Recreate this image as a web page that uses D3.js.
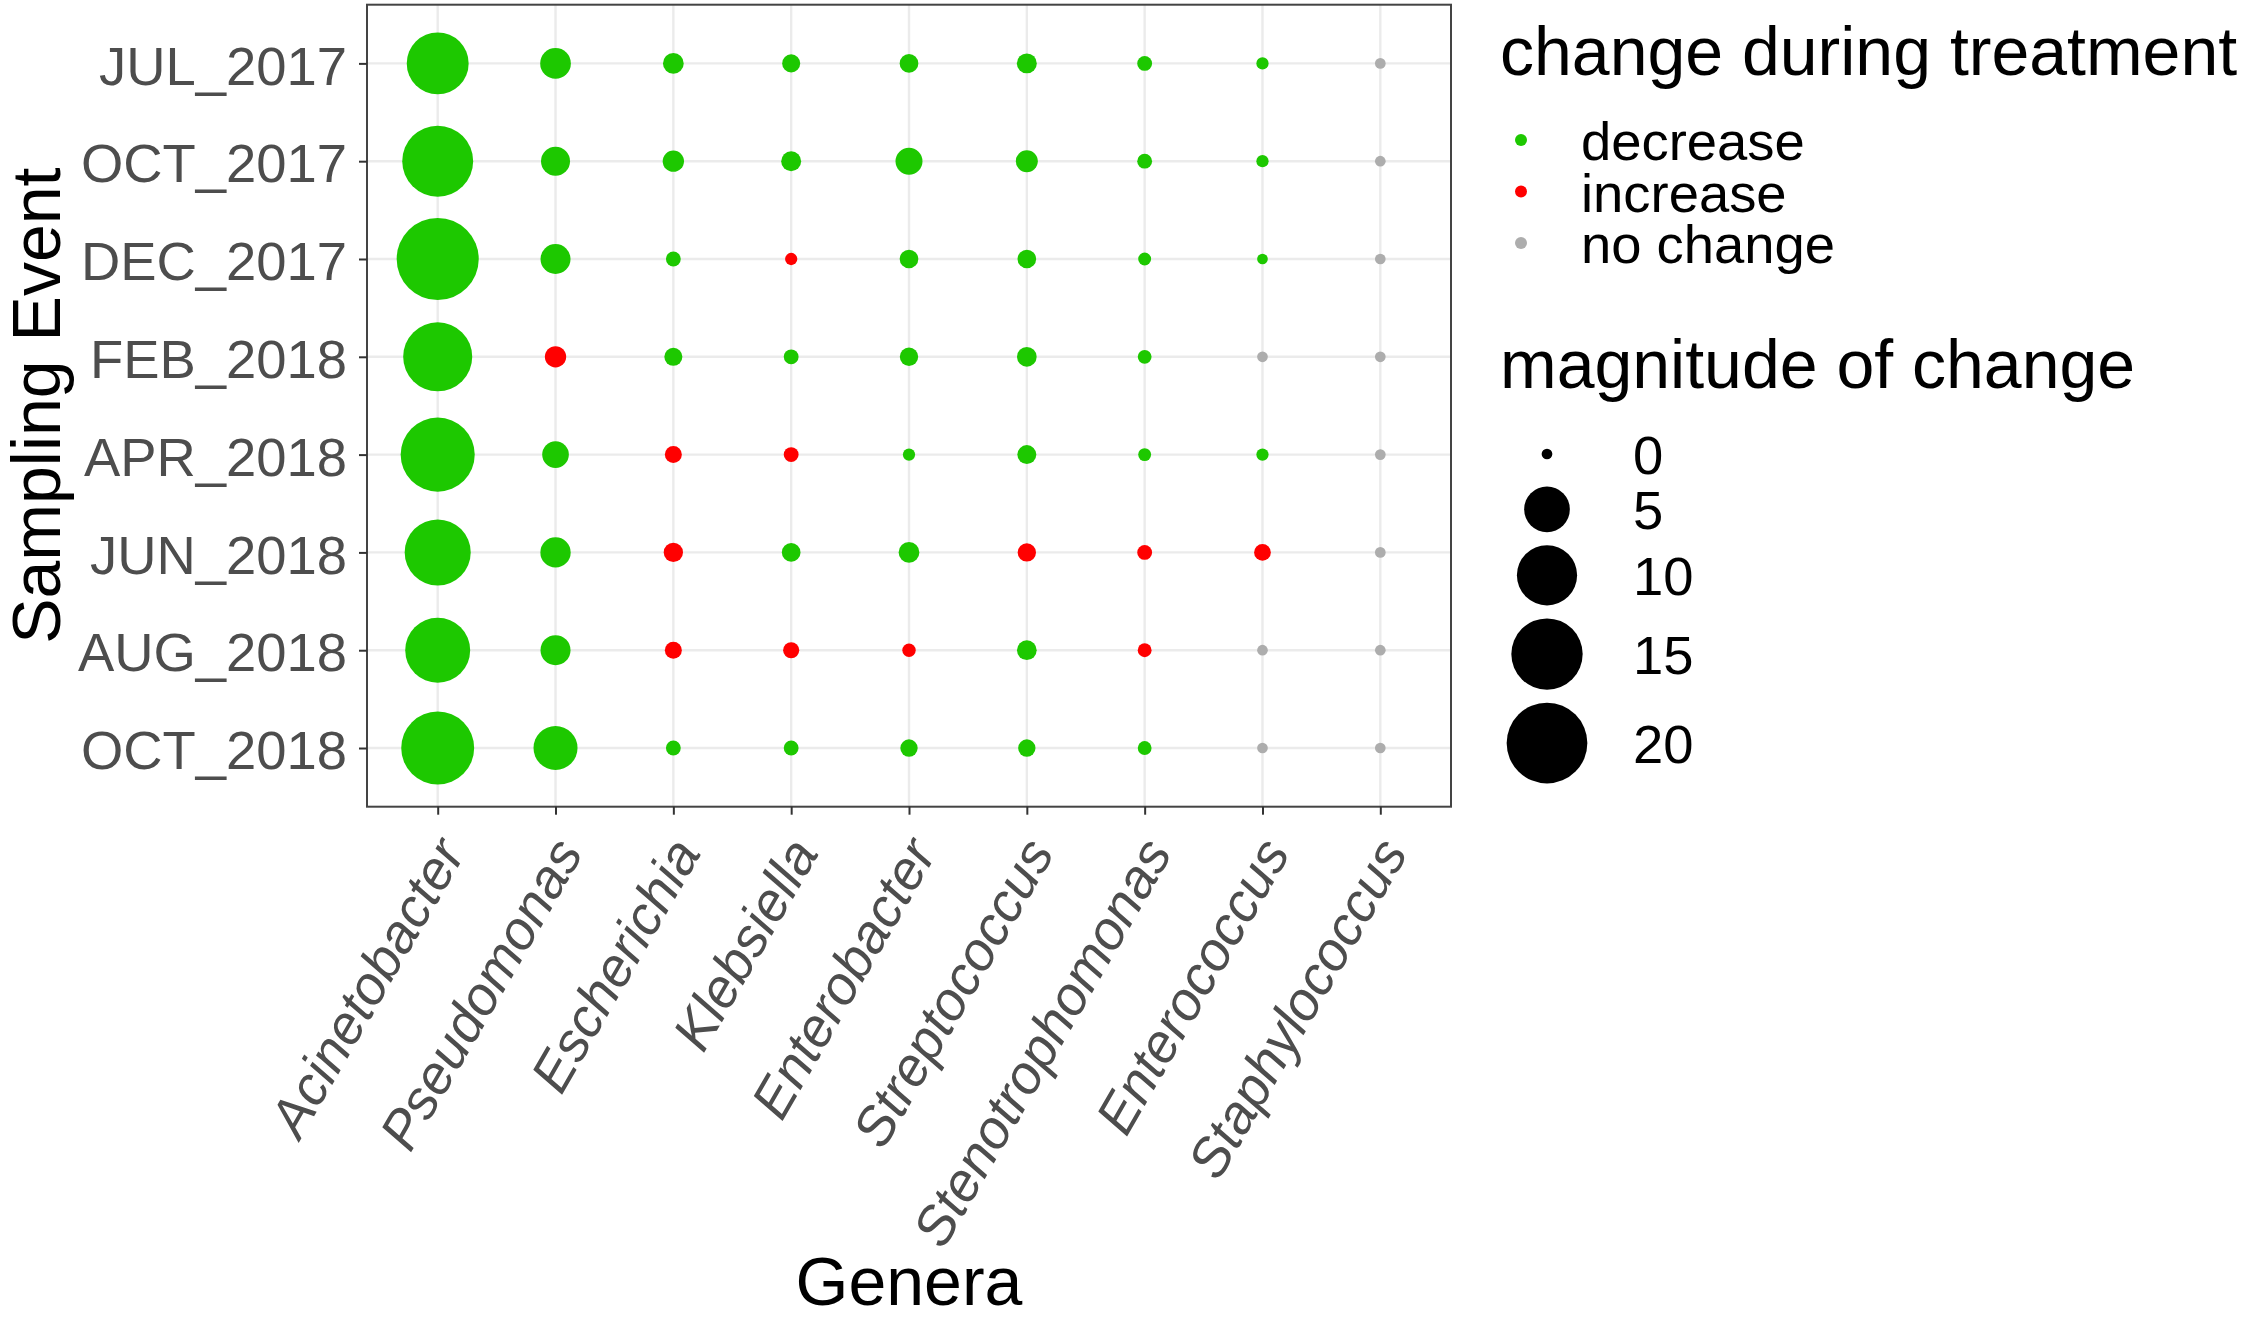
<!DOCTYPE html>
<html>
<head>
<meta charset="utf-8">
<script src="https://cdn.jsdelivr.net/npm/d3@7"></script>
<style>
  body { margin: 0; background: #fff; }
  text { font-family: "Liberation Sans", Arial, Helvetica, sans-serif; }
</style>
</head>
<body>
<div id="visualization"></div>
<script>
/*************************************/
/* Data                              */
/*************************************/

const events = ['JUL_2017', 'OCT_2017', 'DEC_2017', 'FEB_2018',
  'APR_2018', 'JUN_2018', 'AUG_2018', 'OCT_2018'];

const genera = ['Acinetobacter', 'Pseudomonas', 'Escherichia', 'Klebsiella',
  'Enterobacter', 'Streptococcus', 'Stenotrophomonas', 'Enterococcus', 'Staphylococcus'];

// Change direction labels
const D = 'decrease', I = 'increase', N = 'no change';
const changeLevels = [D, I, N];
const changeColors = ['#1dc800', '#ff0000', '#adadad'];

// Magnitude of change per genus, one value per sampling event (same order as events)
const acinetobacter    = [10.7, 14.8, 20.8, 13.9, 16.4, 12.5, 12.0, 15.8];
const pseudomonas      = [1.63, 1.37, 1.52, 0.46, 1.04, 1.57, 1.52, 4.53];
const escherichia      = [0.41, 0.46, 0.07, 0.22, 0.16, 0.30, 0.16, 0.07];
const klebsiella       = [0.22, 0.35, 0.01, 0.07, 0.07, 0.26, 0.12, 0.07];
const enterobacter     = [0.26, 1.08, 0.26, 0.24, 0.01, 0.41, 0.03, 0.18];
const streptococcus    = [0.35, 0.52, 0.26, 0.33, 0.28, 0.24, 0.33, 0.18];
const stenotrophomonas = [0.07, 0.07, 0.02, 0.04, 0.02, 0.07, 0.04, 0.04];
const enterococcus     = [0.01, 0.01, 0.00, 0.00, 0.01, 0.15, 0.00, 0.00];
const staphylococcus   = [0, 0, 0, 0, 0, 0, 0, 0];

// Direction of change per genus
const acinetobacterChange    = [D, D, D, D, D, D, D, D];
const pseudomonasChange      = [D, D, D, I, D, D, D, D];
const escherichiaChange      = [D, D, D, D, I, I, I, D];
const klebsiellaChange       = [D, D, I, D, I, D, I, D];
const enterobacterChange     = [D, D, D, D, D, D, I, D];
const streptococcusChange    = [D, D, D, D, D, I, D, D];
const stenotrophomonasChange = [D, D, D, D, D, I, I, D];
const enterococcusChange     = [D, D, D, N, D, I, N, N];
const staphylococcusChange   = [N, N, N, N, N, N, N, N];

const sizeBreaks = [0, 5, 10, 15, 20];


/*************************************/
/* Layout                            */
/*************************************/

const width = 2251;
const height = 1318;
const panel = { left: 367, right: 1451, top: 4.7, bottom: 806.7 };
const tickFont = 54.4;
const titleFont = 68;


/*************************************/
/* Build table                       */
/*************************************/

const magnitudes = [acinetobacter, pseudomonas, escherichia, klebsiella, enterobacter,
  streptococcus, stenotrophomonas, enterococcus, staphylococcus];
const changes = [acinetobacterChange, pseudomonasChange, escherichiaChange, klebsiellaChange,
  enterobacterChange, streptococcusChange, stenotrophomonasChange, enterococcusChange,
  staphylococcusChange];

const points = [];
genera.forEach((g, gi) => {
  events.forEach((e, ei) => {
    points.push({ genus: g, event: e, value: magnitudes[gi][ei], change: changes[gi][ei] });
  });
});


/*************************************/
/* Scales                            */
/*************************************/

const x = d3.scalePoint().domain(genera).range([panel.left, panel.right]).padding(0.6);
const y = d3.scalePoint().domain(events).range([panel.top, panel.bottom]).padding(0.6);
const r = d3.scaleSqrt().domain([0, 20]).range([5.35, 40.35]);
const color = d3.scaleOrdinal().domain(changeLevels).range(changeColors);


/*************************************/
/* Draw                              */
/*************************************/

const svg = d3.select('#visualization')
  .append('svg')
  .attr('width', width)
  .attr('height', height)
  .attr('viewBox', [0, 0, width, height]);

svg.append('rect').attr('width', width).attr('height', height).attr('fill', '#fff');

// Grid
const grid = svg.append('g')
  .attr('stroke', '#ebebeb')
  .attr('stroke-width', 2.4);

grid.selectAll('.vgrid')
  .data(genera)
  .join('line')
    .attr('x1', d => x(d)).attr('x2', d => x(d))
    .attr('y1', panel.top).attr('y2', panel.bottom);

grid.selectAll('.hgrid')
  .data(events)
  .join('line')
    .attr('x1', panel.left).attr('x2', panel.right)
    .attr('y1', d => y(d)).attr('y2', d => y(d));

// Points
svg.append('g')
  .selectAll('circle')
  .data(points)
  .join('circle')
    .attr('cx', d => x(d.genus))
    .attr('cy', d => y(d.event))
    .attr('r', d => r(d.value))
    .attr('fill', d => color(d.change));

// Panel border
svg.append('rect')
  .attr('x', panel.left)
  .attr('y', panel.top)
  .attr('width', panel.right - panel.left)
  .attr('height', panel.bottom - panel.top)
  .attr('fill', 'none')
  .attr('stroke', '#444')
  .attr('stroke-width', 2);

// Y axis
const yAxis = svg.append('g')
  .attr('transform', `translate(${panel.left},0)`)
  .call(d3.axisLeft(y).tickSize(8).tickPadding(12));
yAxis.select('.domain').remove();
yAxis.selectAll('.tick line').attr('stroke', '#333').attr('stroke-width', 2);
yAxis.selectAll('.tick text')
  .attr('font-size', tickFont)
  .attr('fill', '#4d4d4d')
  .attr('dy', '0.38em');

// X axis
const xAxis = svg.append('g')
  .attr('transform', `translate(0,${panel.bottom})`)
  .call(d3.axisBottom(x).tickSize(8));
xAxis.select('.domain').remove();
xAxis.selectAll('.tick line').attr('stroke', '#333').attr('stroke-width', 2);
xAxis.selectAll('.tick text')
  .attr('font-size', tickFont)
  .attr('font-style', 'italic')
  .attr('fill', '#4d4d4d')
  .attr('text-anchor', 'end')
  .attr('x', 0).attr('y', 0).attr('dy', 0)
  .attr('transform', 'translate(28,46) rotate(-60)');

// Axis titles
svg.append('text')
  .attr('x', (panel.left + panel.right) / 2)
  .attr('y', 1305)
  .attr('text-anchor', 'middle')
  .attr('font-size', titleFont)
  .text('Genera');

svg.append('text')
  .attr('transform', `translate(60,${(panel.top + panel.bottom) / 2}) rotate(-90)`)
  .attr('text-anchor', 'middle')
  .attr('font-size', titleFont)
  .text('Sampling Event');


/*************************************/
/* Legends                           */
/*************************************/

const legendX = 1500;

// Colour legend
const colorLegend = svg.append('g');
colorLegend.append('text')
  .attr('x', legendX).attr('y', 75)
  .attr('font-size', titleFont)
  .text('change during treatment');

const colorKeys = colorLegend.selectAll('.ckey')
  .data(changeLevels)
  .join('g')
    .attr('transform', (d, i) => `translate(1521,${140 + i * 51.5})`);
colorKeys.append('circle').attr('r', 6).attr('fill', d => color(d));
colorKeys.append('text')
  .attr('x', 60).attr('dy', '0.37em')
  .attr('font-size', tickFont)
  .text(d => d);

// Size legend
const sizeLegend = svg.append('g');
sizeLegend.append('text')
  .attr('x', legendX).attr('y', 388)
  .attr('font-size', titleFont)
  .text('magnitude of change');

// key heights follow the circle size, with a minimum of one text line
const keyH = sizeBreaks.map(v => Math.max(2 * r(v) + 13, 52));
let keyY = 454 - keyH[0] / 2;
const sizeKeys = sizeBreaks.map((v, i) => {
  const cy = keyY + keyH[i] / 2;
  keyY += keyH[i];
  return { value: v, cy: cy };
});

const sizeKey = sizeLegend.selectAll('.skey')
  .data(sizeKeys)
  .join('g')
    .attr('transform', d => `translate(1547,${d.cy})`);
sizeKey.append('circle').attr('r', d => r(d.value)).attr('fill', '#000');
sizeKey.append('text')
  .attr('x', 86).attr('dy', '0.37em')
  .attr('font-size', tickFont)
  .text(d => d.value);
</script>
</body>
</html>
